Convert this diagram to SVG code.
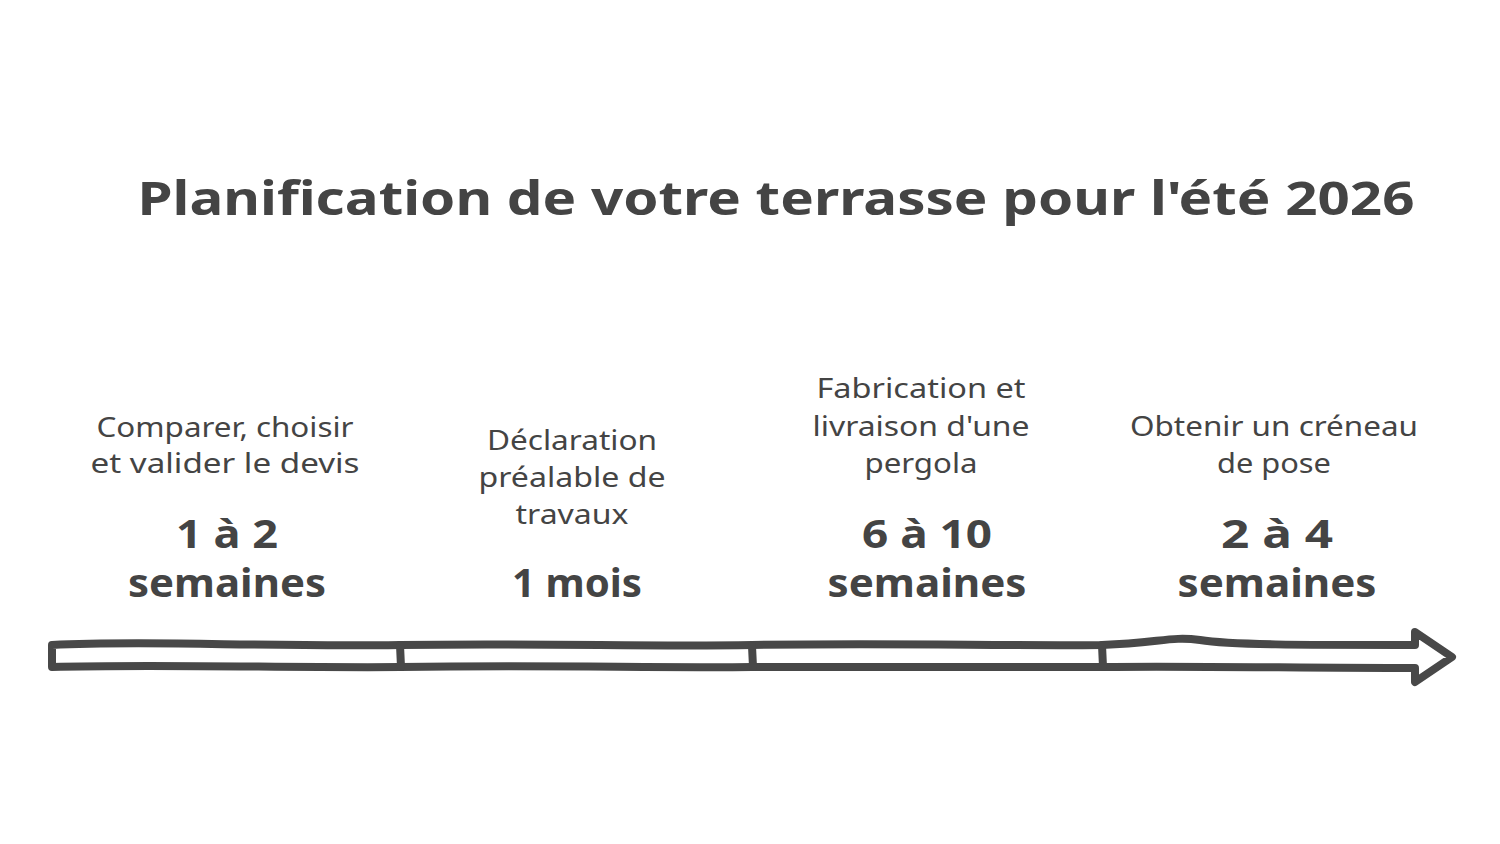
<svg xmlns="http://www.w3.org/2000/svg" width="1500" height="844" viewBox="0 0 1500 844">
<style>
.t{font-family:"Noto Sans","Open Sans","Liberation Sans",sans-serif;fill:#444;text-anchor:middle}
.title{font-size:47px;font-weight:bold}
.lbl{font-size:28px}
.big{font-size:39px;font-weight:bold}
.bar{fill:none;stroke:#484848;stroke-width:8;stroke-linecap:round;stroke-linejoin:round}
</style>
<rect width="1500" height="844" fill="#fff"/>
<text id="title" class="t title" x="776" y="215" textLength="1277" lengthAdjust="spacingAndGlyphs">Planification de votre terrasse pour l'été 2026</text>
<g id="connectors">
<path class="bar" d="M52,645 C150,640 250,647 400,645 C550,643 650,647 752,645 C900,643 1000,646 1102,645 C1160,643 1170,636 1200,640 C1230,645 1300,645 1415,645 L1415,632 L1452,657 L1415,682 L1415,668 C1300,668 1200,666 1102,667 C1000,668 900,666 752,667 C650,668 550,665 400,667 C300,668 150,664 52,667 Z"/>
<path class="bar" d="M400,645 L401,667 M752,646 L753,667 M1102,645 L1103,667"/>
</g>
<g id="step1">
<text class="t lbl" x="225" y="437" textLength="257" lengthAdjust="spacingAndGlyphs">Comparer, choisir</text>
<text class="t lbl" x="225" y="473" textLength="269" lengthAdjust="spacingAndGlyphs">et valider le devis</text>
<text class="t big" x="227" y="548" textLength="102" lengthAdjust="spacingAndGlyphs">1 à 2</text>
<text class="t big" x="227" y="597" textLength="198" lengthAdjust="spacingAndGlyphs">semaines</text>
</g>
<g id="step2">
<text class="t lbl" x="572" y="450" textLength="170" lengthAdjust="spacingAndGlyphs">Déclaration</text>
<text class="t lbl" x="572" y="487" textLength="187" lengthAdjust="spacingAndGlyphs">préalable de</text>
<text class="t lbl" x="572" y="524" textLength="113" lengthAdjust="spacingAndGlyphs">travaux</text>
<text class="t big" x="577" y="597" textLength="130" lengthAdjust="spacingAndGlyphs">1 mois</text>
</g>
<g id="step3">
<text class="t lbl" x="921" y="398" textLength="209" lengthAdjust="spacingAndGlyphs">Fabrication et</text>
<text class="t lbl" x="921" y="436" textLength="217" lengthAdjust="spacingAndGlyphs">livraison d'une</text>
<text class="t lbl" x="921" y="473" textLength="113" lengthAdjust="spacingAndGlyphs">pergola</text>
<text class="t big" x="927" y="548" textLength="130" lengthAdjust="spacingAndGlyphs">6 à 10</text>
<text class="t big" x="927" y="597" textLength="199" lengthAdjust="spacingAndGlyphs">semaines</text>
</g>
<g id="step4">
<text class="t lbl" x="1274" y="436" textLength="288" lengthAdjust="spacingAndGlyphs">Obtenir un créneau</text>
<text class="t lbl" x="1274" y="473" textLength="114" lengthAdjust="spacingAndGlyphs">de pose</text>
<text class="t big" x="1277" y="548" textLength="112" lengthAdjust="spacingAndGlyphs">2 à 4</text>
<text class="t big" x="1277" y="597" textLength="199" lengthAdjust="spacingAndGlyphs">semaines</text>
</g>
</svg>
